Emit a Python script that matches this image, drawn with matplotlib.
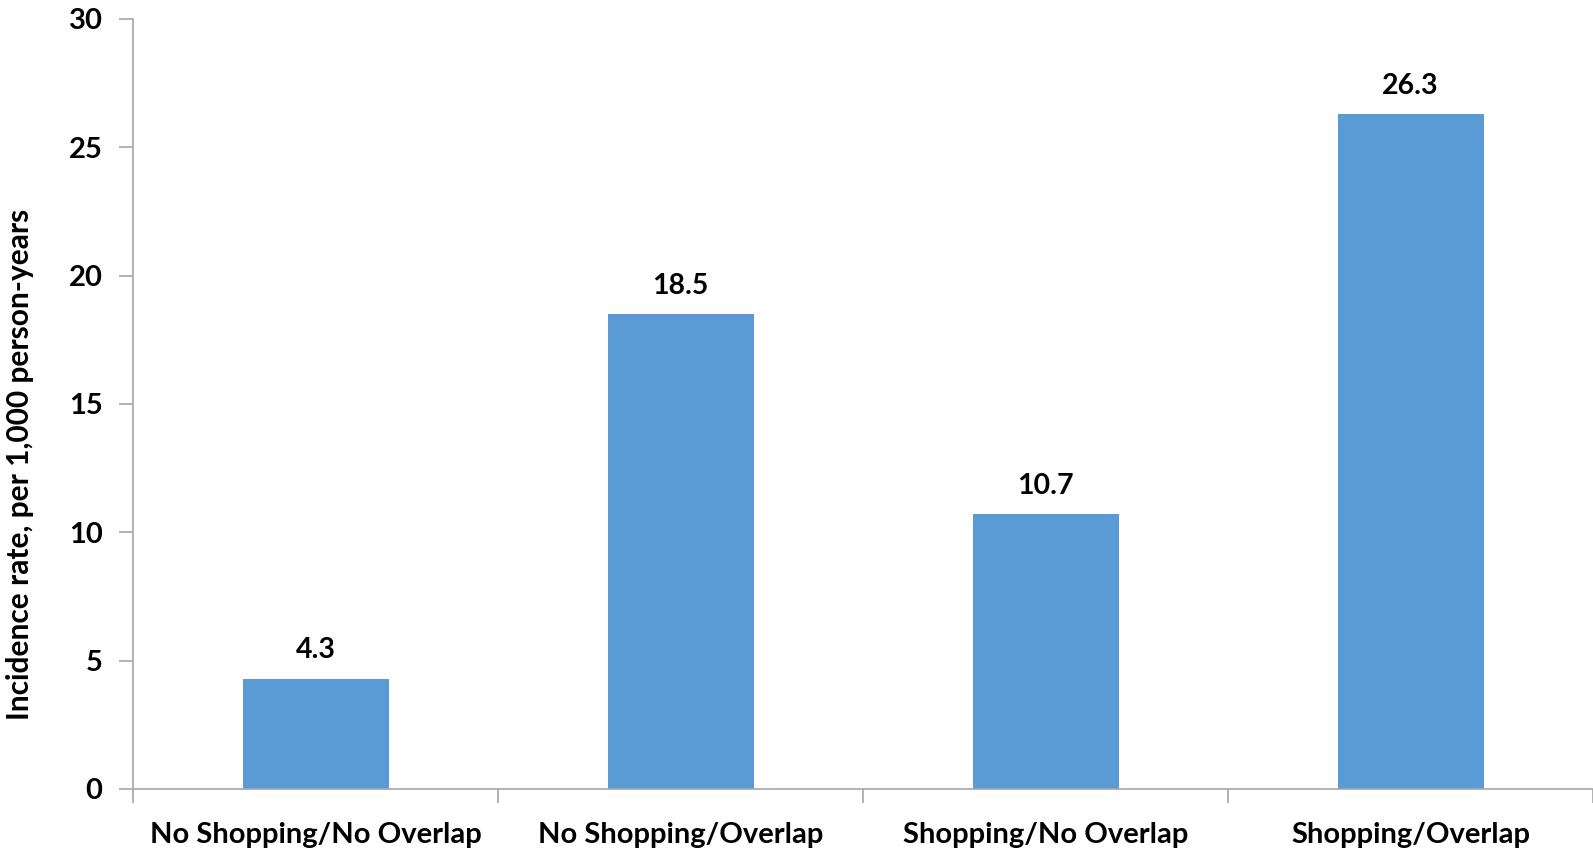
import matplotlib
matplotlib.use("Agg")
import matplotlib.pyplot as plt
from matplotlib.ticker import MultipleLocator, FixedLocator

categories = ["No Shopping/No Overlap", "No Shopping/Overlap", "Shopping/No Overlap", "Shopping/Overlap"]
values = [4.3, 18.5, 10.7, 26.3]
value_labels = ["4.3", "18.5", "10.7", "26.3"]
y_label = "Incidence rate, per 1,000 person-years"

plt.rcParams['font.family'] = ['Lato', 'DejaVu Sans']
plt.rcParams['font.weight'] = 'bold'

fig = plt.figure(figsize=(15.93, 8.48), dpi=100)
ax = fig.add_axes([0.0835, 0.0696, 0.9165, 0.908])

x = list(range(len(categories)))
ax.bar(x, values, width=0.4, color="#5B9BD5", zorder=2)
for xi, v, lab in zip(x, values, value_labels):
    ax.annotate(lab, (xi, v), xytext=(0, 11), textcoords="offset points",
                ha="center", va="bottom", fontsize=20.5, fontweight="bold", color="black")

ax.set_xlim(-0.5, len(categories) - 0.5)
ax.set_ylim(0, 30)
ax.yaxis.set_major_locator(MultipleLocator(5))
ax.set_xticks(x)
ax.set_xticklabels(categories, fontsize=21, fontweight="bold")
ax.xaxis.set_minor_locator(FixedLocator([i - 0.5 for i in range(len(categories) + 1)]))
ax.tick_params(axis="x", which="major", length=0, pad=24)
ax.tick_params(axis="x", which="minor", length=10, color="#A6A6A6", width=1.2)
ax.tick_params(axis="y", length=10, color="#A6A6A6", width=1.2, labelsize=21, pad=12)
for lab in ax.get_yticklabels():
    lab.set_fontweight("bold")

for s in ["top", "right"]:
    ax.spines[s].set_visible(False)
for s in ["left", "bottom"]:
    ax.spines[s].set_color("#A6A6A6")
    ax.spines[s].set_linewidth(1.2)

fig.text(20.5 / 1593, 1 - 464 / 848, y_label, rotation=90, ha="center", va="center",
         fontsize=21.5, fontweight="bold")

fig.savefig("out.png", dpi=100)
